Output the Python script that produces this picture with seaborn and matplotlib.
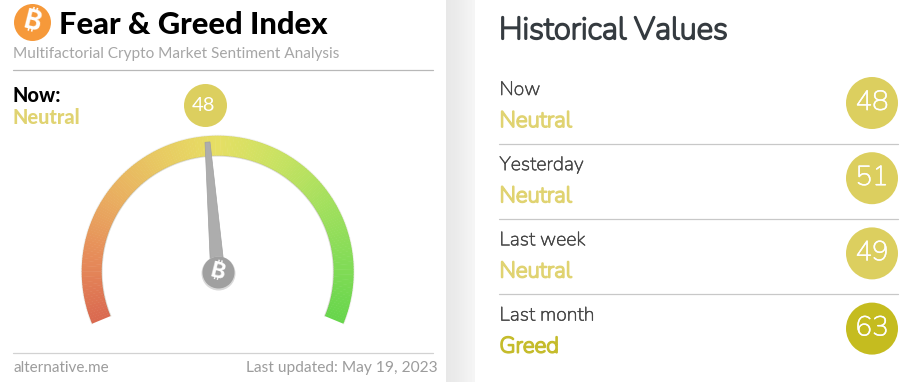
import numpy as np
import pandas as pd
import matplotlib
matplotlib.use("Agg")
import matplotlib.pyplot as plt
import matplotlib.patheffects as pe
from matplotlib.patches import Polygon
import seaborn as sns

# values
periods = ["Now", "Yesterday", "Last week", "Last month"]
scores = [48, 51, 49, 63]
states = ["Neutral", "Neutral", "Neutral", "Greed"]
current_score = 48
current_state = "Neutral"
last_updated = "May 19, 2023"

state_badge = {"Neutral": "#dccf5f", "Greed": "#c5bc1f"}
state_text = {"Neutral": "#e0d371", "Greed": "#c5bc2c"}

sns.set_theme(style="white")
plt.rcParams["font.family"] = ["Lato", "DejaVu Sans"]

coin_font = ["Inter", "Roboto", "Open Sans", "Noto Sans", "Liberation Sans", "Lato", "DejaVu Sans"]
right_font = ["Nunito", "Noto Sans", "DejaVu Sans"]

fig = plt.figure(figsize=(9.22, 3.82), dpi=100, facecolor="white")
ax = fig.add_axes([0, 0, 1, 1])
ax.set_xlim(0, 922)
ax.set_ylim(382, 0)
ax.axis("off")


def px(n):
    return n * 0.72


def thicken(w, color):
    return [pe.withStroke(linewidth=w, foreground=color)]


def badges(df, size):
    sns.scatterplot(data=df, x="x", y="y", hue="state", palette=state_badge, s=px(size) ** 2,
                    linewidth=0, legend=False, ax=ax, zorder=3, clip_on=False)


# grey band between the panels
band = np.array([[0.91, 0.915, 0.92, 0.93, 0.94, 0.95, 0.96]])
ax.imshow(band, extent=[446, 475, 382, 0], cmap="gray", vmin=0, vmax=1, aspect="auto",
          interpolation="bilinear", zorder=0)
ax.set_xlim(0, 922)
ax.set_ylim(382, 0)

# left panel header
ax.scatter([31.5], [21.5], s=px(37) ** 2, color="#f6993a", linewidth=0, zorder=3)
ax.text(31.5, 21.5, "\u20bf", color="white", fontsize=19, fontweight="bold", rotation=-14,
        ha="center", va="center", family=coin_font, zorder=4)
ax.text(58.5, 24.5, "Fear & Greed Index", fontsize=22.2, fontweight="black", color="black", va="center")
ax.text(13, 54, "Multifactorial Crypto Market Sentiment Analysis", fontsize=11.1, color="#a6a6a6", va="center")
ax.plot([13, 433], [69.5, 69.5], color="#b8b8b8", lw=0.9)
ax.text(12.5, 95, "Now:", fontsize=14.4, fontweight="black", color="black", va="center")
ax.text(12.5, 118, current_state, fontsize=14.4, fontweight="black", color=state_text[current_state], va="center")

# footer
ax.plot([13, 433], [352.5, 352.5], color="#d2d2d2", lw=0.9)
ax.text(13, 368, "alternative.me", fontsize=11, color="#9c9c9c", va="center")
ax.text(438, 368, "Last updated: " + last_updated, fontsize=11.15, color="#9c9c9c", va="center", ha="right")

# gauge
cx, cy = 217.7, 271.7
r_out, r_in = 136, 116
start, sweep = 202.5, 225


def angle(v):
    return np.radians(start - sweep * np.asarray(v, dtype=float) / 100)


n_seg = 200
gauge_colors = sns.blend_palette(["#da6a50", "#e68c5a", "#e9ad60", "#e8c962", "#e6df64",
                                  "#c9e262", "#a6e05e", "#86dc58", "#68d64c"], n_colors=n_seg)
edges = np.linspace(0, 100, n_seg + 1)
for i in range(n_seg):
    a = angle([edges[i], edges[i + 1] + 0.1 if i < n_seg - 1 else edges[i + 1]])
    pts = [(cx + r_out * np.cos(a[0]), cy - r_out * np.sin(a[0])),
           (cx + r_out * np.cos(a[1]), cy - r_out * np.sin(a[1])),
           (cx + r_in * np.cos(a[1]), cy - r_in * np.sin(a[1])),
           (cx + r_in * np.cos(a[0]), cy - r_in * np.sin(a[0]))]
    ax.add_patch(Polygon(pts, facecolor=gauge_colors[i], edgecolor="none", zorder=2))
arc = angle(np.linspace(0, 100, 200))
for r, col, al in [(r_out + 0.3, "#8a8a60", 0.12), (r_in - 0.3, "#707050", 0.22)]:
    ax.plot(cx + r * np.cos(arc), cy - r * np.sin(arc), color=col, alpha=al, lw=0.9, zorder=2)

# needle
a = angle(current_score)
tip = 130
ux, uy = np.cos(a), -np.sin(a)
nx, ny = -uy, ux
needle = [(cx + tip * ux + 2.5 * nx, cy + tip * uy + 2.5 * ny),
          (cx + tip * ux - 2.5 * nx, cy + tip * uy - 2.5 * ny),
          (cx - 7 * nx, cy - 7 * ny),
          (cx + 7 * nx, cy + 7 * ny)]
ax.add_patch(Polygon(needle, facecolor="#adadad", edgecolor="#a0a0a0", lw=0.5, zorder=4))
ax.scatter([cx], [cy + 1.2], s=px(34) ** 2, color="#d9d9d9", linewidth=0, zorder=4)
ax.scatter([cx], [cy], s=px(32) ** 2, color="#a0a0a0", linewidth=0, zorder=5)
ax.text(cx, cy, "\u20bf", color="white", fontsize=16, fontweight="bold", rotation=-14,
        ha="center", va="center", family=coin_font, zorder=6)

# score badge over the gauge
now_df = pd.DataFrame({"x": [204.5], "y": [105], "state": [current_state]})
badges(now_df, 43)
ax.text(204, 105.5, str(current_score), color="white", fontsize=14.5, ha="center", va="center", zorder=4)

# right panel, the only rounded family here comes in a thin cut so it gets a stroke
ax.text(499, 30.5, "Historical Values", fontsize=22.5, color="#353b40", va="center",
        family=right_font, path_effects=thicken(1.3, "#353b40"))

rows = pd.DataFrame({"period": periods, "score": scores, "state": states})
rows["y"] = [103 + 75.2 * i for i in range(len(rows))]
rows["x"] = 872
badges(rows, 52)
for i, row in rows.iterrows():
    ax.text(499.5, row["y"] - 13, row["period"], fontsize=14, color="#444444", va="center",
            family=right_font, path_effects=thicken(0.3, "#444444"))
    ax.text(499.5, row["y"] + 18, row["state"], fontsize=16.1, color=state_text[row["state"]],
            va="center", family=right_font, path_effects=thicken(1.2, state_text[row["state"]]))
    ax.text(872, row["y"] - 0.5, str(row["score"]), color="white", fontsize=20, ha="center", va="center",
            family=right_font, zorder=4, path_effects=thicken(0.3, "white"))
    if i < len(rows) - 1:
        ax.plot([499, 898], [row["y"] + 40.5] * 2, color="#c8c8c8", lw=0.9)

fig.savefig("out.png", dpi=100)
